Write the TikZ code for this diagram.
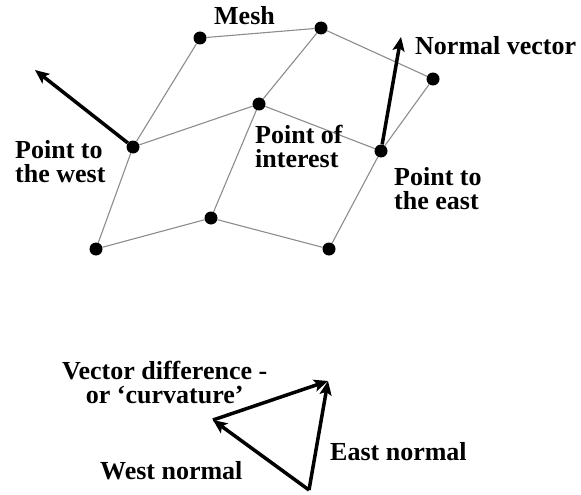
\documentclass[tikz,border=0pt]{standalone}
\usepackage{fontspec}
\setmainfont{Liberation Serif}
\usepackage{tikz}
\usetikzlibrary{positioning,arrows.meta}
\tikzset{
  meshpt/.style={circle,fill=black,inner sep=0pt,minimum size=13pt},
  meshline/.style={line width=1.1pt,draw=gray!90},
  vecline/.style={line width=3.5pt,draw=black,-{Stealth[length=14pt,width=12pt,inset=3pt]}},
  lbl/.style={inner sep=0pt,anchor=base west,align=left,
    font=\fontsize{26}{24}\selectfont\bfseries},
}

\begin{document}
\begin{tikzpicture}[x=1pt,y=-1pt]
  \useasboundingbox (0,0) rectangle (581,495);
  % mesh points
  \node[meshpt] (nw)  at (200,38)  {};
  \node[meshpt] (nn)  at (321,28)  {};
  \node[meshpt] (ne)  at (433,79)  {};
  \node[meshpt] (poi) at (259,104) {};
  \node[meshpt] (pw)  at (133,147) {};
  \node[meshpt] (pe)  at (381,151) {};
  \node[meshpt] (ss)  at (211,218) {};
  \node[meshpt] (sw)  at (96,249)  {};
  \node[meshpt] (se)  at (329,249) {};
  \draw[meshline] (nw) -- (nn);
  \draw[meshline] (nn) -- (ne);
  \draw[meshline] (nw) -- (pw);
  \draw[meshline] (nn) -- (poi);
  \draw[meshline] (ne) -- (pe);
  \draw[meshline] (pw) -- (poi);
  \draw[meshline] (poi) -- (pe);
  \draw[meshline] (pw) -- (sw);
  \draw[meshline] (poi) -- (ss);
  \draw[meshline] (pe) -- (se);
  \draw[meshline] (sw) -- (ss);
  \draw[meshline] (ss) -- (se);
  % normals
  \coordinate (wtip) at (35,70);
  \coordinate (etip) at (401,37);
  \draw[vecline] (pw) -- (wtip);
  \draw[vecline] (pe) -- (etip);
  % labels (base = last line)
  \node[lbl] (lmesh) at (214,25)  {Mesh};
  \node[lbl] (lnorm) at (415,55)  {Normal vector};
  \node[lbl] (lwest) at (15,182)  {Point to\\the west};
  \node[lbl] (lpoi)  at (255,167) {Point of\\interest};
  \node[lbl] (least) at (394,209) {Point to\\the east};
  % difference triangle
  \coordinate (tbase) at (309,490);
  \coordinate (twest) at (213,420);
  \coordinate (teast) at (328,381);
  \draw[vecline] (tbase) -- (twest);
  \draw[vecline] (tbase) -- (teast);
  \draw[vecline] (twest) -- (teast);
  \node[lbl,align=center] (ldiff) at (62,403) {Vector difference -\\or ‘curvature’};
  \node[lbl] (lwn) at (100,479) {West normal};
  \node[lbl] (len) at (330,460) {East normal};
\end{tikzpicture}
\end{document}
